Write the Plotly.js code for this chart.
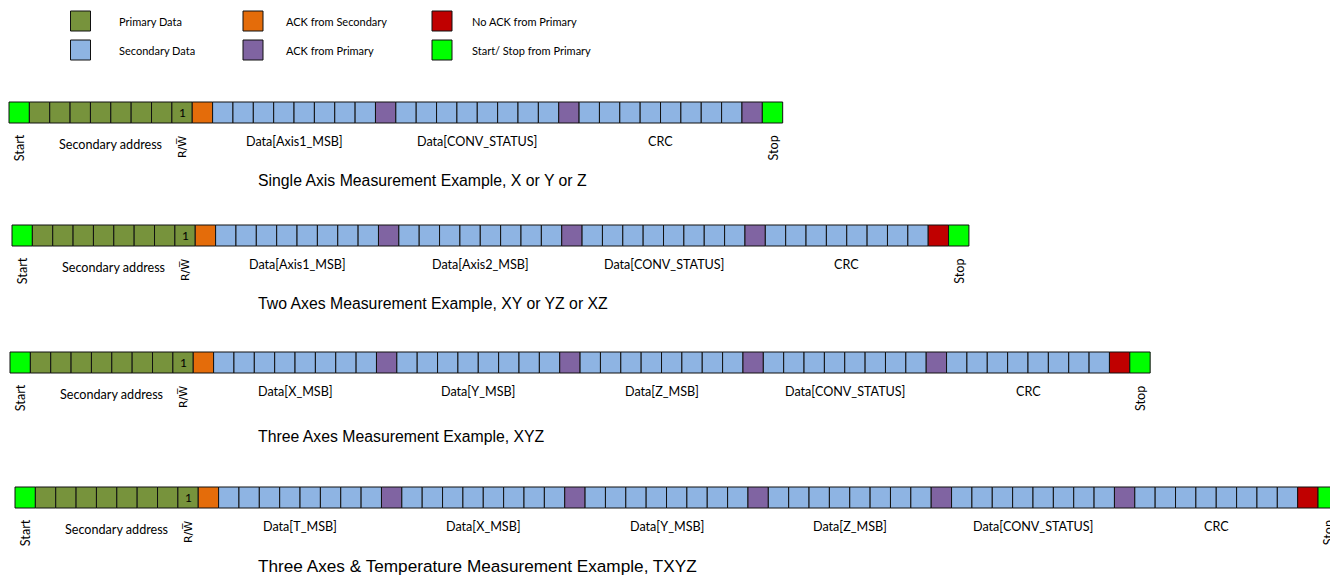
<!DOCTYPE html>
<html>
<head>
<meta charset="utf-8">
<script src="https://cdn.plot.ly/plotly-3.0.1.min.js"></script>
<style>html,body{margin:0;padding:0;background:#fff}#chart{width:1330px;height:575px}</style>
</head>
<body>
<div id="chart"></div>
<script>
// ---- data ----
const legendNames = ['Primary Data', 'Secondary Data', 'ACK from Secondary', 'ACK from Primary', 'No ACK from Primary', 'Start/ Stop from Primary'];
const legendCodes = ['P', 'D', 'A', 'M', 'N', 'S'];

const row1Seq = 'S PPPPPPPP A DDDDDDDD M DDDDDDDD M DDDDDDDD M S';
const row2Seq = 'S PPPPPPPP A DDDDDDDD M DDDDDDDD M DDDDDDDD M DDDDDDDD N S';
const row3Seq = 'S PPPPPPPP A DDDDDDDD M DDDDDDDD M DDDDDDDD M DDDDDDDD M DDDDDDDD N S';
const row4Seq = 'S PPPPPPPP A DDDDDDDD M DDDDDDDD M DDDDDDDD M DDDDDDDD M DDDDDDDD M DDDDDDDD N S';

const row1Labels = ['Data[Axis1_MSB]', 'Data[CONV_STATUS]', 'CRC'];
const row2Labels = ['Data[Axis1_MSB]', 'Data[Axis2_MSB]', 'Data[CONV_STATUS]', 'CRC'];
const row3Labels = ['Data[X_MSB]', 'Data[Y_MSB]', 'Data[Z_MSB]', 'Data[CONV_STATUS]', 'CRC'];
const row4Labels = ['Data[T_MSB]', 'Data[X_MSB]', 'Data[Y_MSB]', 'Data[Z_MSB]', 'Data[CONV_STATUS]', 'CRC'];

const rowTitles = [
  'Single Axis Measurement Example, X or Y or Z',
  'Two Axes Measurement Example, XY or YZ or XZ',
  'Three Axes Measurement Example, XYZ',
  'Three Axes & Temperature Measurement Example, TXYZ'
];
const rwBitValue = '1';

// ---- styling / layout ----
const colors = {S: '#00FF00', P: '#77933C', A: '#E46C0A', D: '#8EB4E3', M: '#8064A2', N: '#C00000'};
const W = 20.36, H = 21;
const rowLayout = [
  {x0: 9,  top: 102, titleY: 180, titleSize: 15.8},
  {x0: 12, top: 225, titleY: 303, titleSize: 15.8},
  {x0: 10, top: 352, titleY: 436, titleSize: 15.8},
  {x0: 15, top: 487, titleY: 566, titleSize: 17.2}
];
const seqs = [row1Seq, row2Seq, row3Seq, row4Seq];
const labelSets = [row1Labels, row2Labels, row3Labels, row4Labels];

const lblFont = {family: 'Lato, "Open Sans", sans-serif', size: 12.6, color: '#000'};
const rwFont = {family: '"DejaVu Sans", sans-serif', size: 11, color: '#000'};
const titleFamily = '"Liberation Sans", Arial, sans-serif';

const traces = [];
const annotations = [];

seqs.forEach((s, r) => {
  const cells = s.replace(/ /g, '').split('');
  const L = rowLayout[r];
  traces.push({
    type: 'bar',
    x: cells.map((c, i) => L.x0 + (i + 0.5) * W),
    y: cells.map(() => H),
    base: cells.map(() => L.top),
    width: W,
    marker: {color: cells.map(c => colors[c]), line: {color: '#111', width: 1}},
    hoverinfo: 'skip',
    showlegend: false
  });
  const n = cells.length;
  const cx = i => L.x0 + (i + 0.5) * W;
  annotations.push({x: cx(8), y: L.top + H / 2, text: rwBitValue, showarrow: false, font: {family: lblFont.family, size: 12, color: '#000'}});
  annotations.push({x: cx(0), y: L.top + 46, text: 'Start', textangle: -90, showarrow: false, font: lblFont});
  annotations.push({x: cx(n - 1), y: L.top + 46, text: 'Stop', textangle: -90, showarrow: false, font: lblFont});
  annotations.push({x: L.x0 + 5 * W, y: L.top + 42, text: 'Secondary address', showarrow: false, font: lblFont});
  annotations.push({x: cx(8), y: L.top + 45, text: 'R/W\u0305', textangle: -90, showarrow: false, font: rwFont});
  labelSets[r].forEach((t, k) => {
    annotations.push({x: L.x0 + (10 + 9 * k + 4) * W, y: L.top + 39, text: t, showarrow: false, font: lblFont});
  });
  annotations.push({x: 256, y: L.titleY, xanchor: 'left', text: rowTitles[r], showarrow: false,
    font: {family: titleFamily, size: L.titleSize, color: '#000'}});
});

// legend
const legCols = [{sx: 80.5, tx: 117}, {sx: 253, tx: 284}, {sx: 442, tx: 470}];
const legRows = [21, 50];
const lx = [], ly = [], lc = [];
legendCodes.forEach((c, i) => {
  const col = legCols[Math.floor(i / 2)], yy = legRows[i % 2];
  lx.push(col.sx); ly.push(yy); lc.push(colors[c]);
  annotations.push({x: col.tx, y: yy, xanchor: 'left', text: legendNames[i], showarrow: false,
    font: {family: 'Lato, "Open Sans", sans-serif', size: 11, color: '#000'}});
});
traces.push({
  type: 'scatter', mode: 'markers', x: lx, y: ly,
  marker: {symbol: 'square', size: 20, color: lc, line: {color: '#111', width: 1}},
  hoverinfo: 'skip', showlegend: false
});

const layout = {
  width: 1330, height: 575,
  margin: {l: 0, r: 0, t: 0, b: 0},
  paper_bgcolor: '#fff', plot_bgcolor: '#fff',
  barmode: 'overlay',
  xaxis: {range: [0, 1330], visible: false, fixedrange: true},
  yaxis: {range: [575, 0], visible: false, fixedrange: true},
  annotations: annotations,
  showlegend: false
};
Plotly.newPlot('chart', traces, layout, {displayModeBar: false, staticPlot: true});
</script>
</body>
</html>
